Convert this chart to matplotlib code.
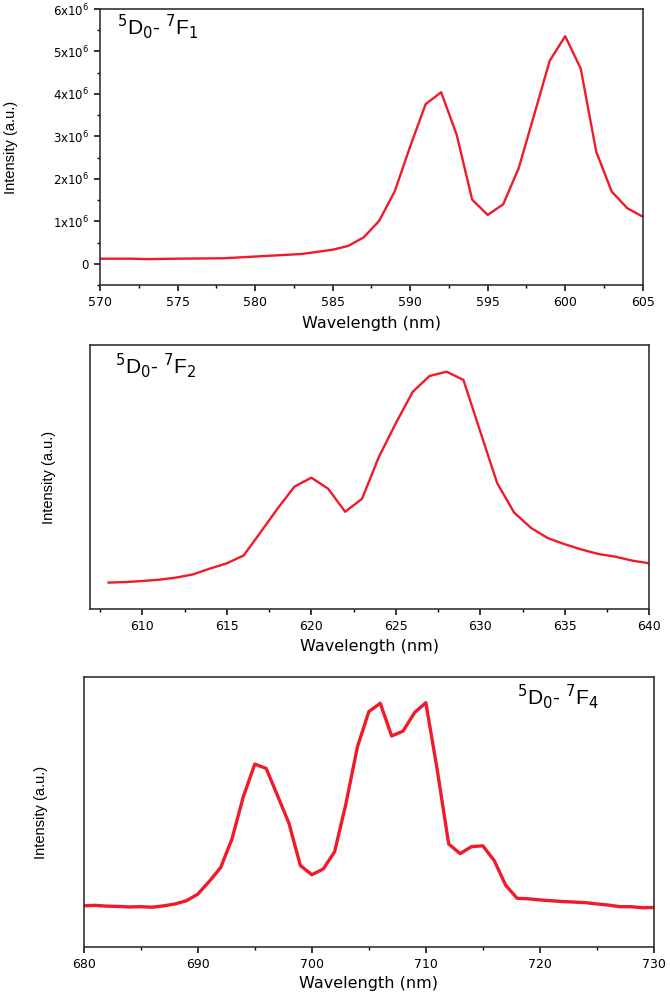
import matplotlib
matplotlib.use('Agg')
from matplotlib import pyplot as plt
from matplotlib.ticker import MultipleLocator, FixedLocator, FixedFormatter

# 5D0 - 7F1 band
wl_1 = [570, 572, 573, 575, 578, 579, 580, 581, 582, 583, 584, 585, 586, 587,
        588, 589, 590, 591, 592, 593, 594, 595, 596, 597, 598, 599, 600, 601,
        602, 603, 604, 605]
int_1 = [0.12, 0.12, 0.11, 0.12, 0.13, 0.15, 0.17, 0.19, 0.21, 0.23, 0.28, 0.33,
         0.42, 0.62, 1.01, 1.70, 2.76, 3.76, 4.04, 3.04, 1.51, 1.15, 1.40, 2.25,
         3.51, 4.78, 5.36, 4.60, 2.64, 1.70, 1.31, 1.11]
int_1 = [v * 1e6 for v in int_1]

# 5D0 - 7F2 band (arbitrary units)
wl_2 = list(range(608, 641))
int_2 = [0.101, 0.103, 0.107, 0.112, 0.120, 0.132, 0.154, 0.174, 0.204, 0.292,
         0.381, 0.464, 0.498, 0.456, 0.369, 0.418, 0.577, 0.704, 0.823, 0.883,
         0.899, 0.868, 0.672, 0.477, 0.366, 0.308, 0.269, 0.246, 0.226, 0.209,
         0.199, 0.184, 0.174]

# 5D0 - 7F4 band (arbitrary units)
wl_3 = list(range(680, 731))
int_3 = [0.153, 0.155, 0.152, 0.151, 0.149, 0.150, 0.148, 0.153, 0.160, 0.172,
         0.196, 0.243, 0.294, 0.400, 0.557, 0.677, 0.661, 0.560, 0.458, 0.302,
         0.268, 0.289, 0.353, 0.532, 0.741, 0.871, 0.902, 0.781, 0.799, 0.867,
         0.904, 0.655, 0.382, 0.346, 0.372, 0.375, 0.320, 0.229, 0.181, 0.179,
         0.175, 0.172, 0.169, 0.167, 0.165, 0.160, 0.156, 0.150, 0.150, 0.146,
         0.147]

ytick_vals = [0, 1e6, 2e6, 3e6, 4e6, 5e6, 6e6]
ytick_text = ['0', '1x10$^6$', '2x10$^6$', '3x10$^6$', '4x10$^6$', '5x10$^6$', '6x10$^6$']

red = '#f01a2a'
narrow = ['Liberation Sans Narrow', 'Liberation Sans', 'DejaVu Sans']
label_font = ['Liberation Sans', 'DejaVu Sans']

fig = plt.figure(figsize=(6.7, 9.92), dpi=100)
ax1 = fig.add_axes([0.1493, 0.7127, 0.8100, 0.2782])
ax2 = fig.add_axes([0.1343, 0.3858, 0.8348, 0.2664])
ax3 = fig.add_axes([0.1249, 0.0451, 0.8512, 0.2727])

ax1.plot(wl_1, int_1, c=red, lw=1.7)
ax2.plot(wl_2, int_2, c=red, lw=1.7)
ax3.plot(wl_3, int_3, c=red, lw=2.4)

ax1.set_xlim(570, 605)
ax1.set_ylim(-0.5e6, 6e6)
ax2.set_xlim(606.9, 640)
ax2.set_ylim(0, 1)
ax3.set_xlim(680, 730)
ax3.set_ylim(0, 1)

ax1.xaxis.set_major_locator(MultipleLocator(5))
ax1.xaxis.set_minor_locator(MultipleLocator(2.5))
ax1.yaxis.set_major_locator(FixedLocator(ytick_vals))
ax1.yaxis.set_major_formatter(FixedFormatter(ytick_text))
ax1.yaxis.set_minor_locator(MultipleLocator(0.5e6))
ax2.xaxis.set_major_locator(MultipleLocator(5))
ax2.xaxis.set_minor_locator(MultipleLocator(2.5))
ax3.xaxis.set_major_locator(MultipleLocator(10))
ax3.xaxis.set_minor_locator(MultipleLocator(5))

for ax in (ax2, ax3):
    ax.set_yticks([])

for ax in (ax1, ax2, ax3):
    for sp in ax.spines.values():
        sp.set_color('#333333')
        sp.set_linewidth(1.2)
    ax.tick_params(axis='both', which='major', direction='out', length=4,
                   width=1.1, labelsize=9, pad=4)
    ax.tick_params(axis='both', which='minor', direction='out', length=2.5,
                   width=1.0)
    ax.set_xlabel('Wavelength (nm)', fontsize=11.5)
    ax.set_ylabel('Intensity (a.u.)', fontsize=10.5, family=narrow)

ax1.tick_params(axis='y', which='major', labelsize=8.5)
ax1.xaxis.set_label_coords(0.5, -0.112)
ax1.yaxis.set_label_coords(-0.151, 0.5)
ax2.xaxis.set_label_coords(0.5, -0.112)
ax2.yaxis.set_label_coords(-0.061, 0.5)
ax3.xaxis.set_label_coords(0.5, -0.106)
ax3.yaxis.set_label_coords(-0.0626, 0.5)

ax1.text(0.031, 0.935, r'$^5$D$_0$- $^7$F$_1$', transform=ax1.transAxes,
         fontsize=15, va='center', ha='left', family=label_font)
ax2.text(0.045, 0.924, r'$^5$D$_0$- $^7$F$_2$', transform=ax2.transAxes,
         fontsize=15, va='center', ha='left', family=label_font)
ax3.text(0.759, 0.926, r'$^5$D$_0$- $^7$F$_4$', transform=ax3.transAxes,
         fontsize=15, va='center', ha='left', family=label_font)

plt.savefig('out.png', dpi=100)
